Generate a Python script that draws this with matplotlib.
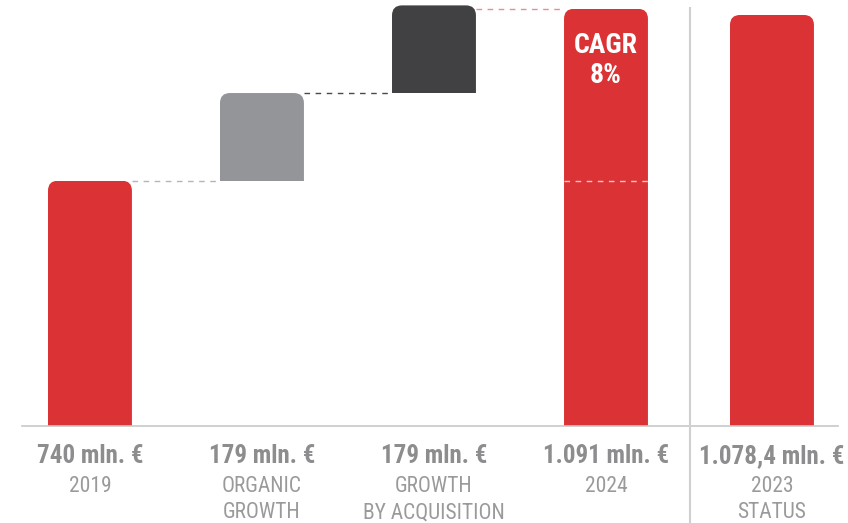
import matplotlib
matplotlib.use("Agg")
import matplotlib.pyplot as plt
from matplotlib import transforms
from matplotlib.patches import FancyBboxPatch, Rectangle

# ---------------- DATA ----------------
categories = ["2019", "ORGANIC\nGROWTH", "GROWTH\nBY ACQUISITION", "2024", "2023\nSTATUS"]
value_labels = ["740 mln. €", "179 mln. €", "179 mln. €", "1.091 mln. €", "1.078,4 mln. €"]
start_2019 = 740
organic = 179
acquisition = 179
end_2024 = 1091
status_2023 = 1078.4

RED = "#db3335"
GREY = "#939598"
DARK = "#414143"
TEXT_GREY = "#8d8d8f"
CAT_GREY = "#9a9a9c"

FONT = ["Roboto Condensed", "DejaVu Sans"]

heights = [start_2019, organic, acquisition, end_2024, status_2023]
bottoms = [0, start_2019, start_2019 + organic, 0, 0]
colors = [RED, GREY, DARK, RED, RED]
xpos = [0, 1, 2, 3, 3.965]
bar_w = 0.488

fig = plt.figure(figsize=(8.48, 5.23), dpi=100)
ax = fig.add_axes([0, 97 / 523, 1, 426 / 523])
ax.set_xlim(-0.523, 4.407)
ax.set_ylim(239, 1109)
ax.axis("off")

bars = ax.bar(xpos, heights, bottom=bottoms, width=bar_w, color=colors)
fig.canvas.draw()

# rounded tops: draw a rounded box a bit taller and clip it to the visible bar
px = ax.transData.inverted().transform([[0, 0], [1, 1]])
dx_px = px[1, 0] - px[0, 0]
dy_px = px[1, 1] - px[0, 1]
aspect = dy_px / dx_px
r = 10 * dx_px
ymin = ax.get_ylim()[0]
for b in bars:
    x0, y0 = b.get_x(), b.get_y()
    w, h = b.get_width(), b.get_height()
    ext = 3 * r * aspect
    rb = FancyBboxPatch((x0, y0 - ext), w, h + ext,
                        boxstyle=f"round,pad=0,rounding_size={r}",
                        mutation_aspect=aspect, facecolor=b.get_facecolor(),
                        edgecolor="none", zorder=2)
    lo = max(y0, ymin)
    clip = Rectangle((x0, lo), w, y0 + h - lo, transform=ax.transData)
    ax.add_patch(rb)
    rb.set_clip_path(clip)
    b.remove()

# connector lines between the steps
half = bar_w / 2
ax.plot([xpos[0] + half, xpos[1] - half], [start_2019] * 2, ls=(0, (4, 4)),
        color="#b5b5b7", lw=1, zorder=1)
ax.plot([xpos[1] + half, xpos[2] - half], [start_2019 + organic] * 2, ls=(0, (4, 4)),
        color="#4a4a4c", lw=1, zorder=1)
ax.plot([xpos[2] + half, xpos[3] - half], [end_2024] * 2, ls=(0, (4, 4)),
        color="#ee8a8b", lw=1, zorder=1)
ax.plot([xpos[3] - half, xpos[3] + half], [start_2019] * 2, ls=(0, (4, 4)),
        color="#f3c4c4", lw=1, zorder=3)

ax.text(xpos[3], 1108 - 60 * dy_px, "CAGR\n8%", ha="center", va="center", color="white",
        fontsize=20, fontweight="bold", family=FONT, linespacing=1.15, zorder=4)

# baseline and separator
fig.add_artist(plt.Line2D([22 / 848, 838 / 848], [97 / 523] * 2, color="#c8c8c8", lw=1.2))
fig.add_artist(plt.Line2D([690 / 848] * 2, [0, 1 - 8 / 523], color="#d0d0d0", lw=1.5))

trans = transforms.blended_transform_factory(ax.transData, fig.transFigure)
for x, vl, cat in zip(xpos, value_labels, categories):
    ax.text(x, 1 - 456 / 523, vl, transform=trans, ha="center", va="center",
            fontsize=18, fontweight="bold", color=TEXT_GREY, family=FONT, clip_on=False)
    for i, line in enumerate(cat.split("\n")):
        ax.text(x, 1 - (486 + 27 * i) / 523, line, transform=trans, ha="center",
                va="center", fontsize=15.5, color=CAT_GREY, family=FONT, clip_on=False)

fig.savefig("out.png", dpi=100)
